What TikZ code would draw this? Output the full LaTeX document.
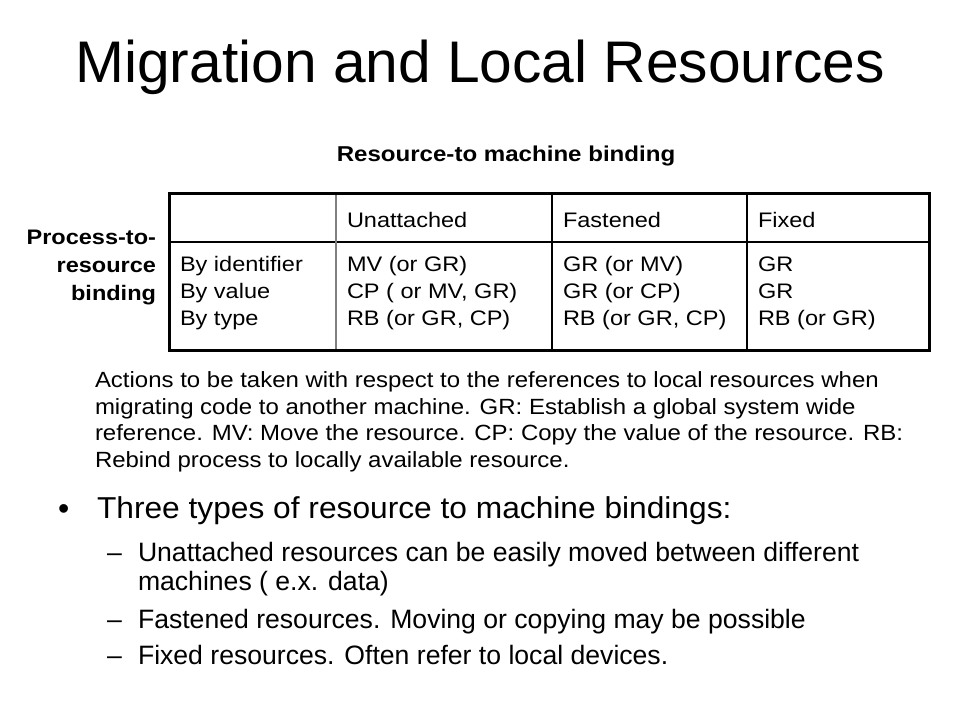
\documentclass[tikz,border=0pt]{standalone}
\usepackage{fontspec}
\setmainfont{Liberation Sans}
\newfontfamily\tabfont[FakeStretch=1.12]{Liberation Sans}
\newfontfamily\notefont[FakeStretch=1.09]{Liberation Sans}
\newfontfamily\onefont[FakeStretch=1.05]{Liberation Sans}
\newcommand\myfs[1]{\fontsize{#1}{#1}\selectfont}
\begin{document}
\begin{tikzpicture}[x=1pt,y=-1pt,
  txt/.style={inner sep=0pt, outer sep=0pt, anchor=base west},
  rtxt/.style={inner sep=0pt, outer sep=0pt, anchor=base east},
  cell/.style={txt, font=\tabfont\myfs{21}},
  note/.style={txt, font=\notefont\myfs{22}},
  lvlone/.style={txt, font=\onefont\myfs{30.2}},
  lvltwo/.style={txt, font=\myfs{26.6}},
  side/.style={rtxt, font=\tabfont\myfs{21}\bfseries},
  outer/.style={line width=3pt, black},
  inner/.style={line width=1.2pt, black},
  innergray/.style={line width=1.2pt, black!50}]
\useasboundingbox[fill=white] (0,0) rectangle (960,720);

% title
\node[inner sep=0pt, anchor=base] (title) at (480,82) {\myfs{58.7}Migration and Local Resources};

% column heading
\node[inner sep=0pt, anchor=base] (rtm) at (506,161) {\tabfont\myfs{21.5}\bfseries Resource-to machine binding};

% row heading
\node[side] (ptr1) at (156,244) {Process-to-};
\node[side] (ptr2) at (156,272) {resource};
\node[side] (ptr3) at (156,300) {binding};

% table grid
\coordinate (tl) at (169,193);
\coordinate (br) at (929,350);
\draw[inner] (169,242) -- (929,242);
\draw[innergray] (336,193) -- (336,350);
\draw[inner] (552,193) -- (552,350);
\draw[inner] (747,193) -- (747,350);
\draw[outer] (tl) rectangle (br);

% header row
\node[cell] (hU) at (347,227) {Unattached};
\node[cell] (hF) at (563,227) {Fastened};
\node[cell] (hX) at (758,227) {Fixed};

% column 1
\node[cell] (r1) at (180,271) {By identifier};
\node[cell] (r2) at (180,298) {By value};
\node[cell] (r3) at (180,325) {By type};
% column 2
\node[cell] (u1) at (347,271) {MV (or GR)};
\node[cell] (u2) at (347,298) {CP ( or MV, GR)};
\node[cell] (u3) at (347,325) {RB (or GR, CP)};
% column 3
\node[cell] (f1) at (563,271) {GR (or MV)};
\node[cell] (f2) at (563,298) {GR (or CP)};
\node[cell] (f3) at (563,325) {RB (or GR, CP)};
% column 4
\node[cell] (x1) at (758,271) {GR};
\node[cell] (x2) at (758,298) {GR};
\node[cell] (x3) at (758,325) {RB (or GR)};

% note paragraph
\node[note] (n1) at (95,387) {Actions to be taken with respect to the references to local resources when};
\node[note] (n2) at (95,414) {migrating code to another machine. GR: Establish a global system wide};
\node[note] (n3) at (95,440) {reference. MV: Move the resource. CP: Copy the value of the resource. RB:};
\node[note] (n4) at (95,467) {Rebind process to locally available resource.};

% bullets
\node[txt, font=\myfs{32}] (b0) at (58,519) {•};
\node[lvlone] (b1) at (97,518) {Three types of resource to machine bindings:};

\node[lvltwo] (d1) at (107,561) {–};
\node[lvltwo] (s1) at (138,561) {Unattached resources can be easily moved between different};
\node[lvltwo] (s1b) at (138,590) {machines ( e.x. data)};
\node[lvltwo] (d2) at (107,628) {–};
\node[lvltwo] (s2) at (138,628) {Fastened resources. Moving or copying may be possible};
\node[lvltwo] (d3) at (107,664) {–};
\node[lvltwo] (s3) at (138,664) {Fixed resources. Often refer to local devices.};
\end{tikzpicture}
\end{document}
